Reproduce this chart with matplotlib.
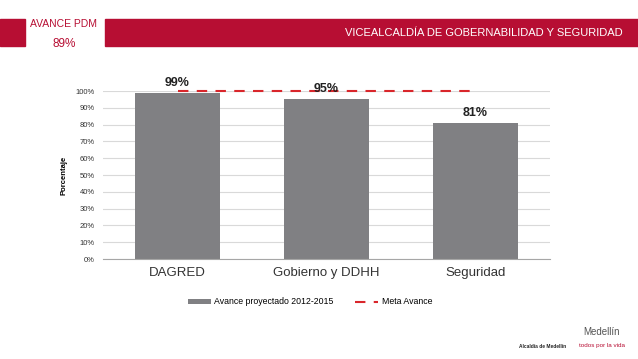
import matplotlib.pyplot as plt
from matplotlib.patches import Rectangle

categories = ["DAGRED", "Gobierno y DDHH", "Seguridad"]
avance = [0.99, 0.95, 0.81]
meta = [1.0, 1.0, 1.0]
labels = ["99%", "95%", "81%"]
yticks = [0, 0.1, 0.2, 0.3, 0.4, 0.5, 0.6, 0.7, 0.8, 0.9, 1.0]

red = "#B70E33"
gray = "#808083"

plt.rcParams["font.family"] = ["Liberation Sans", "DejaVu Sans"]

fig = plt.figure(figsize=(6.38, 3.59), dpi=100)

# header band
fig.patches.append(Rectangle((0, 0.872), 25 / 638, 0.075, transform=fig.transFigure,
                             color=red, zorder=0))
fig.patches.append(Rectangle((105 / 638, 0.872), 1 - 105 / 638, 0.075,
                             transform=fig.transFigure, color=red, zorder=0))
fig.text(623 / 638, 0.908, "VICEALCALDÍA DE GOBERNABILIDAD Y SEGURIDAD", color="white",
         fontsize=8, ha="right", va="center")
fig.text(64 / 638, 0.933, "AVANCE PDM", color=red, fontsize=7.5, ha="center",
         va="center")
fig.text(64 / 638, 0.878, "89%", color=red, fontsize=8.5, ha="center", va="center")

ax = fig.add_axes([103 / 638, 1 - 259 / 359, 447 / 638, 168 / 359])
x = range(len(categories))
bars = ax.bar(x, avance, width=0.57, color=gray, zorder=2,
              label="Avance proyectado 2012-2015")
line, = ax.plot(x, meta, color="#D9262B", linestyle=(0, (5, 4)), linewidth=1.5,
                zorder=3, label="Meta Avance", clip_on=False)
for i, (v, t) in enumerate(zip(avance, labels)):
    ax.text(i, v + 0.06, t, ha="center", va="center", fontsize=9, fontweight="bold",
            color="#222222", clip_on=False, zorder=4)

ax.set_xlim(-0.5, 2.5)
ax.set_ylim(0, 1.0)
ax.set_yticks(yticks)
ax.set_yticklabels([f"{int(round(t * 100))}%" for t in yticks], fontsize=5.5)
ax.set_xticks(list(x))
ax.set_xticklabels(categories, fontsize=9.5)
ax.tick_params(axis="both", length=0, colors="#333333")
ax.tick_params(axis="x", pad=6)
ax.tick_params(axis="y", pad=6)
ax.grid(axis="y", color="#D9D9D9", linewidth=0.8, zorder=0)
for s in ["left", "right", "top"]:
    ax.spines[s].set_visible(False)
ax.spines["bottom"].set_color("#A6A6A6")
ax.set_ylabel("Porcentaje", fontsize=5.5, fontweight="bold", labelpad=6)

fig.legend(handles=[bars, line], loc="center", bbox_to_anchor=(0.486, 1 - 302 / 359),
           ncol=2, frameon=False, fontsize=6.3, handlelength=2.6, handleheight=0.5,
           columnspacing=2.5, handletextpad=0.4)

# footer logos as text
fig.text(543 / 638, 0.036, "Alcaldía de Medellín", fontsize=3.5, fontweight="bold",
         ha="center", va="center", color="#222222")
fig.text(602 / 638, 0.075, "Medellín", fontsize=7, ha="center", va="center",
         color="#555555")
fig.text(602 / 638, 0.038, "todos por la vida", fontsize=4.5, ha="center", va="center",
         color=red)

fig.savefig("out.png", dpi=100)
